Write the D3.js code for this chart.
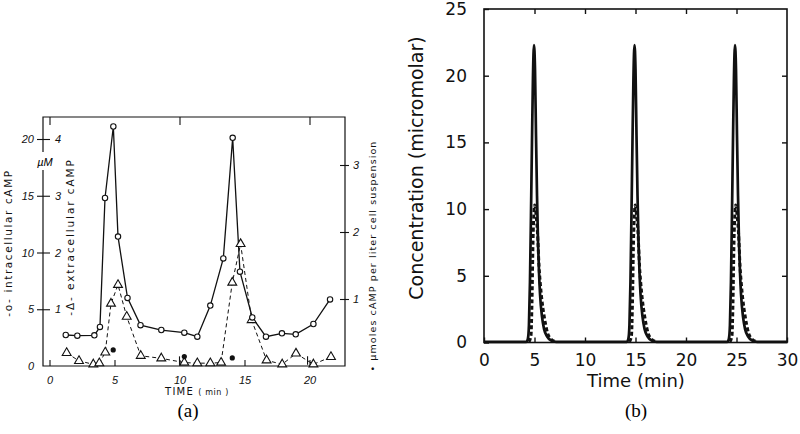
<!DOCTYPE html>
<html><head><meta charset="utf-8">
<script src="https://cdn.jsdelivr.net/npm/d3@7"></script>
<style>body{margin:0;background:#fff} svg{display:block}</style>
</head><body>
<svg id="c" width="800" height="434"></svg>
<script>
// ---------- Panel (a) data (experimental) ----------
const intraTime = [1.25,2.14,3.45,3.88,4.27,4.91,5.27,6.0,7.0,8.6,10.37,11.37,12.37,13.37,14.09,14.65,15.6,16.65,17.88,18.94,20.3,21.58];
const intraConc = [2.73,2.67,2.7,3.44,14.8,21.1,11.4,6.0,3.6,3.17,2.94,2.58,5.32,9.48,20.1,8.31,4.28,2.58,2.88,2.79,3.7,5.87];
const extraTime = [1.32,2.27,3.37,3.83,4.29,4.73,5.27,5.94,7.02,8.6,10.37,11.37,12.37,13.2,14.06,14.7,15.55,16.7,17.9,18.96,20.3,21.65];
const extraConc = [0.23,0.09,0.03,0.05,0.24,1.10,1.43,0.87,0.18,0.135,0.06,0.05,0.05,0.06,1.47,2.15,0.81,0.10,0.03,0.22,0.03,0.16];
const errTime = [10.0,19.85];
const errLow = [0.02,0.02];
const errHigh = [0.17,0.17];
const cellTime = [4.9,10.37,14.06];
const cellAmount = [0.24,0.14,0.12];
const aXTicks = [0,5,10,15,20];
const aTopTicks = [0,10,20];
const aLeftTicks = [0,5,10,15,20];
const aInnerTicks = [1,2,3,4];
const aRightTicks = [1,2,3];

// ---------- Panel (b) data (model) ----------
const solidTime = [0,
 4.2,4.35,4.45,4.55,4.65,4.75,4.85,4.95,5.05,5.15,5.25,5.35,5.45,5.55,5.75,5.95,6.25,6.65,7.15,
 14.15,14.3,14.4,14.5,14.6,14.7,14.8,14.9,15.0,15.1,15.2,15.3,15.4,15.5,15.7,15.9,16.2,16.6,17.1,
 24.1,24.25,24.35,24.45,24.55,24.65,24.75,24.85,24.95,25.05,25.15,25.25,25.35,25.45,25.65,25.85,26.15,26.55,27.05,
 30];
const solidConc = [0.05,
 0.05,0.3,1.3,4.5,9.5,15,20,22.3,20.5,15.5,11,7.5,5.2,3.6,1.9,1.0,0.45,0.15,0.05,
 0.05,0.3,1.3,4.5,9.5,15,20,22.3,20.5,15.5,11,7.5,5.2,3.6,1.9,1.0,0.45,0.15,0.05,
 0.05,0.3,1.3,4.5,9.5,15,20,22.3,20.5,15.5,11,7.5,5.2,3.6,1.9,1.0,0.45,0.15,0.05,
 0.05];
const dashTime = [
 [4.45,4.65,4.75,4.85,4.95,5.02,5.15,5.3,5.45,5.6,5.73,5.95,6.28,6.65,7.15],
 [14.4,14.6,14.7,14.8,14.9,14.97,15.1,15.25,15.4,15.55,15.68,15.9,16.23,16.6,17.1],
 [24.35,24.55,24.65,24.75,24.85,24.92,25.05,25.2,25.35,25.5,25.63,25.85,26.18,26.55,27.05]];
const dashConc = [
 [0.05,0.5,3,7.5,9.8,10.3,9.6,8.2,5.7,4.2,3.2,2,0.75,0.25,0.05],
 [0.05,0.5,3,7.5,9.8,10.3,9.6,8.2,5.7,4.2,3.2,2,0.75,0.25,0.05],
 [0.05,0.5,3,7.5,9.8,10.3,9.6,8.2,5.7,4.2,3.2,2,0.75,0.25,0.05]];
const bXTicks = [0,5,10,15,20,25,30];
const bYTicks = [0,5,10,15,20,25];
const bTopTicks = [5,10,15,20,25];
const bRightTicks = [5,10,15,20];

const svg = d3.select('#c');
const fmt = d3.format('d');

// ================= Panel (a) =================
const A = {l:43, t:117, r:345, b:366};
const xa = d3.scaleLinear().domain([0,20]).range([49.5,309.5]);
const ya = d3.scaleLinear().domain([0,20]).range([366,139]);
const ye = d3.scaleLinear().domain([0,4]).range([366,139]);
const yr = d3.scaleLinear().domain([0,3]).range([366,165]);
const ga = svg.append('g');
const aFont = "'Liberation Sans', Arial, sans-serif";

ga.append('path')
  .attr('d', `M${A.l},152 V${A.t} H${A.r} V${A.b} H${A.l} V170`)
  .attr('fill','none').attr('stroke','#111').attr('stroke-width',1.2);

function styleAxis(g){ g.select('.domain').remove(); g.selectAll('line').attr('stroke','#111').attr('stroke-width',1.1); }
function italic(g){ g.selectAll('text').attr('font-family',aFont).attr('font-style','italic').attr('font-size',11).attr('fill','#111'); }

ga.append('g').attr('transform',`translate(0,${A.b})`)
  .call(d3.axisBottom(xa).tickValues(aXTicks).tickFormat(fmt).tickSizeInner(-6).tickSizeOuter(0).tickPadding(10))
  .call(styleAxis).call(italic);
ga.append('g').attr('transform',`translate(0,${A.t})`)
  .call(d3.axisTop(xa).tickValues(aTopTicks).tickSizeInner(-8).tickSizeOuter(0).tickFormat(''))
  .call(styleAxis);
ga.append('g').attr('transform',`translate(${A.l},0)`)
  .call(d3.axisLeft(ya).tickValues(aLeftTicks).tickFormat(fmt).tickSizeInner(0).tickSizeOuter(0).tickPadding(9))
  .call(styleAxis)
  .call(g=>g.selectAll('.tick').filter(d=>d>0).append('line').attr('x1',-6).attr('x2',7).attr('stroke','#111').attr('stroke-width',1.1))
  .call(italic);
ga.append('g').attr('transform',`translate(${A.l},0)`)
  .call(d3.axisRight(ye).tickValues(aInnerTicks).tickFormat(fmt).tickSizeInner(0).tickSizeOuter(0).tickPadding(12))
  .call(g=>g.select('.domain').remove())
  .call(italic);
ga.append('g').attr('transform',`translate(${A.r},0)`)
  .call(d3.axisRight(yr).tickValues(aRightTicks).tickFormat(fmt).tickSizeInner(0).tickSizeOuter(0).tickPadding(8))
  .call(styleAxis)
  .call(g=>g.selectAll('.tick').append('line').attr('x1',-5).attr('x2',4).attr('stroke','#111').attr('stroke-width',1.1))
  .call(italic);

ga.append('text').attr('x',45).attr('y',166).attr('text-anchor','middle')
  .attr('font-family',aFont).attr('font-style','italic').attr('font-size',11).text('µM');

function vlabel(x,y,txt,size,ls){
  ga.append('text').attr('transform',`translate(${x},${y}) rotate(-90)`).attr('text-anchor','middle')
    .attr('font-family',"'DejaVu Sans', sans-serif").attr('font-size',size).attr('letter-spacing',ls)
    .attr('fill','#111').text(txt);
}
vlabel(12,243,'-o- intracellular cAMP',10.5,1.6);
vlabel(74,237,'-Δ- extracellular cAMP',10.5,1.9);
vlabel(376,256,'• µmoles cAMP per liter cell suspension',9.5,1.1);

ga.append('text').attr('x',197).attr('y',395).attr('text-anchor','middle')
  .attr('font-family',"'DejaVu Sans', sans-serif").attr('fill','#111')
  .call(t=>{ t.append('tspan').attr('font-size',10).attr('letter-spacing',1.2).text('TIME ');
             t.append('tspan').attr('font-size',8).attr('letter-spacing',0.6).text('( min )'); });

const intra = intraTime.map((t,i)=>({t, v:intraConc[i]}));
const extra = extraTime.map((t,i)=>({t, v:extraConc[i]}));
const cells = cellTime.map((t,i)=>({t, v:cellAmount[i]}));
const errs = errTime.map((t,i)=>({t, lo:errLow[i], hi:errHigh[i]}));
ga.append('path').datum(extra)
  .attr('d', d3.line().x(d=>xa(d.t)).y(d=>ye(d.v)))
  .attr('fill','none').attr('stroke','#111').attr('stroke-width',1).attr('stroke-dasharray','4,3');
ga.selectAll('line.err').data(errs).join('line').attr('class','err')
  .attr('x1',d=>xa(d.t)).attr('x2',d=>xa(d.t)).attr('y1',d=>ye(d.lo)).attr('y2',d=>ye(d.hi))
  .attr('stroke','#111').attr('stroke-width',1.1);
ga.append('path').datum(intra)
  .attr('d', d3.line().x(d=>xa(d.t)).y(d=>ya(d.v)))
  .attr('fill','none').attr('stroke','#111').attr('stroke-width',1.3);
ga.selectAll('path.tri').data(extra).join('path').attr('class','tri')
  .attr('transform',d=>`translate(${xa(d.t)},${ye(d.v)})`)
  .attr('d', d3.symbol().type(d3.symbolTriangle).size(34))
  .attr('fill','#fff').attr('stroke','#111').attr('stroke-width',1.1);
ga.selectAll('circle.ic').data(intra).join('circle').attr('class','ic')
  .attr('cx',d=>xa(d.t)).attr('cy',d=>ya(d.v)).attr('r',2.7)
  .attr('fill','#fff').attr('stroke','#111').attr('stroke-width',1.1);
ga.selectAll('circle.cc').data(cells).join('circle').attr('class','cc')
  .attr('cx',d=>xa(d.t)).attr('cy',d=>yr(d.v)).attr('r',2.6).attr('fill','#111');

ga.append('text').attr('x',188).attr('y',417).attr('text-anchor','middle')
  .attr('font-family',"'Liberation Serif', 'Times New Roman', serif").attr('font-size',19).text('(a)');

// ================= Panel (b) =================
const B = {l:484, t:9, r:787, b:342.5};
const xb = d3.scaleLinear().domain([0,30]).range([B.l,B.r]);
const yb = d3.scaleLinear().domain([0,25]).range([B.b,B.t]);
const gb = svg.append('g');
const bFont = "'DejaVu Sans', sans-serif";

gb.append('rect').attr('x',B.l).attr('y',B.t).attr('width',B.r-B.l).attr('height',B.b-B.t)
  .attr('fill','none').attr('stroke','#111').attr('stroke-width',1.6);

function styleB(g){ g.select('.domain').remove(); g.selectAll('line').attr('stroke','#111').attr('stroke-width',1.4); }
gb.append('g').attr('transform',`translate(0,${B.b})`)
  .call(d3.axisBottom(xb).tickValues(bXTicks).tickFormat(fmt).tickSizeInner(-5).tickSizeOuter(0).tickPadding(11))
  .call(styleB)
  .call(g=>g.selectAll('text').attr('font-family',bFont).attr('font-size',17).attr('fill','#111'));
gb.append('g').attr('transform',`translate(${B.l},0)`)
  .call(d3.axisLeft(yb).tickValues(bYTicks).tickFormat(fmt).tickSizeInner(-5).tickSizeOuter(0).tickPadding(17))
  .call(styleB)
  .call(g=>g.selectAll('text').attr('font-family',bFont).attr('font-size',17).attr('fill','#111'));
gb.append('g').attr('transform',`translate(0,${B.t})`)
  .call(d3.axisTop(xb).tickValues(bTopTicks).tickSizeInner(-5).tickSizeOuter(0).tickFormat(''))
  .call(styleB);
gb.append('g').attr('transform',`translate(${B.r},0)`)
  .call(d3.axisRight(yb).tickValues(bRightTicks).tickSizeInner(-5).tickSizeOuter(0).tickFormat(''))
  .call(styleB);

gb.append('text').attr('transform',`translate(423,168) rotate(-90)`).attr('text-anchor','middle')
  .attr('font-family',bFont).attr('font-size',19).attr('fill','#111').text('Concentration (micromolar)');
gb.append('text').attr('x',636).attr('y',387).attr('text-anchor','middle')
  .attr('font-family',bFont).attr('font-size',18).attr('fill','#111').text('Time (min)');
gb.append('text').attr('x',636).attr('y',417).attr('text-anchor','middle')
  .attr('font-family',"'Liberation Serif', 'Times New Roman', serif").attr('font-size',19).text('(b)');

const lineB = d3.line().x(d=>xb(d.t)).y(d=>yb(d.v)).curve(d3.curveMonotoneX);
const solid = solidTime.map((t,i)=>({t, v:solidConc[i]}));
gb.append('path').datum(solid).attr('d',lineB)
  .attr('fill','none').attr('stroke','#111').attr('stroke-width',2.7).attr('stroke-linejoin','round');
dashTime.forEach((ts,k)=>{
  const pts = ts.map((t,i)=>({t, v:dashConc[k][i]}));
  gb.append('path').datum(pts).attr('d',lineB)
    .attr('fill','none').attr('stroke','#111').attr('stroke-width',3).attr('stroke-dasharray','4,2.5');
});
</script>
</body></html>
